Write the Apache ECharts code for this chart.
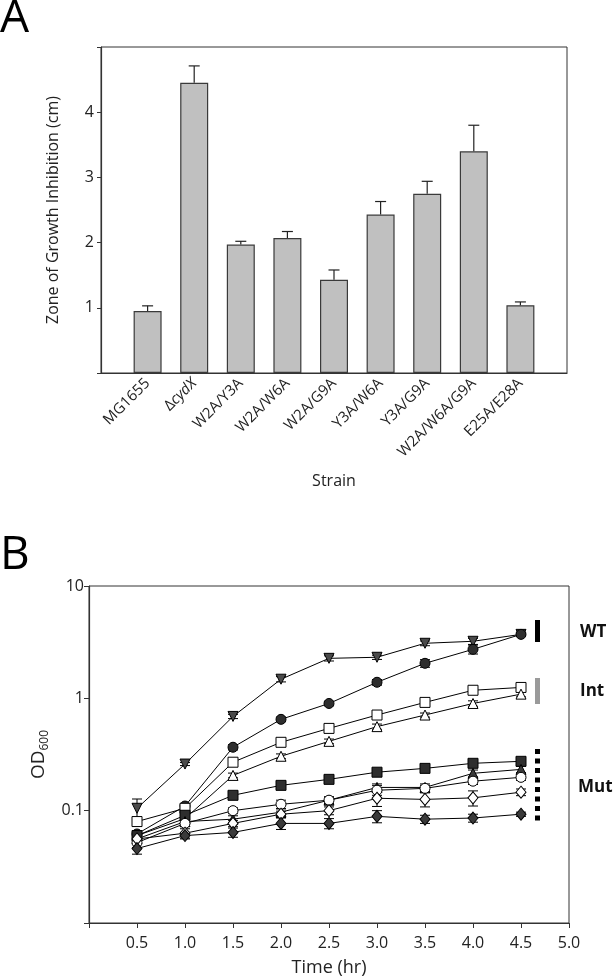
<!DOCTYPE html>
<html>
<head>
<meta charset="utf-8">
<script src="https://cdn.jsdelivr.net/npm/echarts@6/dist/echarts.min.js"></script>
<style>
html,body{margin:0;padding:0;background:#fff;}
#c{width:615px;height:980px;}
</style>
</head>
<body>
<div id="c"></div>
<script>
// ---------- Panel A data ----------
const strains = ['MG1655', 'ΔcydX', 'W2A/Y3A', 'W2A/W6A', 'W2A/G9A', 'Y3A/W6A', 'Y3A/G9A', 'W2A/W6A/G9A', 'E25A/E28A'];
const zoneMean = [0.95, 4.45, 1.97, 2.07, 1.43, 2.43, 2.75, 3.40, 1.04];
const zoneErr  = [0.08, 0.26, 0.05, 0.10, 0.15, 0.20, 0.19, 0.40, 0.05];
const zoneTicks = [0, 1, 2, 3, 4, 5];

// ---------- Panel B data ----------
const times = [0.5, 1.0, 1.5, 2.0, 2.5, 3.0, 3.5, 4.0, 4.5];
const odTriDownFilled = [0.105, 0.26, 0.69, 1.48, 2.27, 2.32, 3.09, 3.22, 3.71];
const odTriDownFilledErr = [0.022, 0.008, 0.03, 0.08, 0.12, 0.10, 0.15, 0.20, 0.15];
const odCircleFilled = [0.062, 0.110, 0.367, 0.65, 0.90, 1.39, 2.05, 2.73, 3.71];
const odCircleFilledErr = [0.004, 0.006, 0.02, 0.03, 0.04, 0.08, 0.16, 0.25, 0.10];
const odSquareOpen = [0.080, 0.105, 0.27, 0.406, 0.54, 0.71, 0.92, 1.18, 1.25];
const odSquareOpenErr = [0.007, 0.008, 0.01, 0.015, 0.02, 0.03, 0.04, 0.05, 0.08];
const odTriUpOpen = [0.060, 0.085, 0.206, 0.305, 0.414, 0.56, 0.71, 0.90, 1.09];
const odTriUpOpenErr = [0.004, 0.004, 0.01, 0.015, 0.02, 0.03, 0.03, 0.05, 0.06];
const odSquareFilled = [0.060, 0.091, 0.137, 0.168, 0.19, 0.22, 0.238, 0.264, 0.275];
const odSquareFilledErr = [0.004, 0.004, 0.005, 0.007, 0.008, 0.01, 0.012, 0.015, 0.02];
const odTriUpFilled = [0.056, 0.080, 0.084, 0.097, 0.124, 0.161, 0.161, 0.215, 0.233];
const odTriUpFilledErr = [0.004, 0.004, 0.006, 0.007, 0.009, 0.012, 0.012, 0.015, 0.015];
const odCircleOpen = [0.052, 0.077, 0.100, 0.114, 0.124, 0.152, 0.158, 0.183, 0.198];
const odCircleOpenErr = [0.005, 0.005, 0.006, 0.010, 0.008, 0.015, 0.010, 0.012, 0.012];
const odDiamondOpen = [0.056, 0.063, 0.077, 0.093, 0.100, 0.129, 0.126, 0.130, 0.146];
const odDiamondOpenErr = [0.004, 0.006, 0.005, 0.006, 0.008, 0.020, 0.018, 0.020, 0.010];
const odDiamondFilled = [0.046, 0.060, 0.064, 0.077, 0.077, 0.089, 0.084, 0.086, 0.093];
const odDiamondFilledErr = [0.005, 0.004, 0.006, 0.009, 0.008, 0.011, 0.007, 0.007, 0.004];
const odTicks = [0.01, 0.1, 1, 10];
const timeTicks = [0, 0.5, 1.0, 1.5, 2.0, 2.5, 3.0, 3.5, 4.0, 4.5, 5.0];

const FONT = '"Open Sans", "Noto Sans", sans-serif';
const TXT = '#222';
const AX = '#333';

const chart = echarts.init(document.getElementById('c'), null, {renderer: 'canvas'});

const catData = [''].concat(strains, ['']);
const barData = [null].concat(zoneMean, [null]);
const barErrData = zoneMean.map((m, i) => [i + 1, m, zoneErr[i]]);

const odSeriesDef = [
  {name: 'WT1', data: odTriDownFilled, err: odTriDownFilledErr, symbol: 'triangle', rot: 180, fill: '#4a4a4a'},
  {name: 'WT2', data: odCircleFilled, err: odCircleFilledErr, symbol: 'circle', rot: 0, fill: '#2e2e2e'},
  {name: 'Int1', data: odSquareOpen, err: odSquareOpenErr, symbol: 'rect', rot: 0, fill: '#fff'},
  {name: 'Int2', data: odTriUpOpen, err: odTriUpOpenErr, symbol: 'triangle', rot: 0, fill: '#fff'},
  {name: 'Mut1', data: odSquareFilled, err: odSquareFilledErr, symbol: 'rect', rot: 0, fill: '#2e2e2e'},
  {name: 'Mut2', data: odTriUpFilled, err: odTriUpFilledErr, symbol: 'triangle', rot: 0, fill: '#3a3a3a'},
  {name: 'Mut3', data: odCircleOpen, err: odCircleOpenErr, symbol: 'circle', rot: 0, fill: '#fff'},
  {name: 'Mut4', data: odDiamondOpen, err: odDiamondOpenErr, symbol: 'diamond', rot: 0, fill: '#fff'},
  {name: 'Mut5', data: odDiamondFilled, err: odDiamondFilledErr, symbol: 'diamond', rot: 0, fill: '#3a3a3a'}
];

function errRenderB(params, api) {
  const x = api.value(0), v = api.value(1), e = api.value(2);
  const lo = api.coord([x, v - e]);
  const hi = api.coord([x, v + e]);
  const hw = 5;
  const st = {stroke: '#000', lineWidth: 1};
  return {type: 'group', children: [
    {type: 'line', shape: {x1: lo[0], y1: lo[1], x2: hi[0], y2: hi[1]}, style: st},
    {type: 'line', shape: {x1: lo[0] - hw, y1: lo[1], x2: lo[0] + hw, y2: lo[1]}, style: st},
    {type: 'line', shape: {x1: hi[0] - hw, y1: hi[1], x2: hi[0] + hw, y2: hi[1]}, style: st}
  ]};
}

function errRenderA(params, api) {
  const x = api.value(0), v = api.value(1), e = api.value(2);
  const lo = api.coord([x, v]);
  const hi = api.coord([x, v + e]);
  const hw = 5.5;
  const st = {stroke: '#222', lineWidth: 1.2};
  return {type: 'group', children: [
    {type: 'line', shape: {x1: lo[0], y1: lo[1], x2: hi[0], y2: hi[1]}, style: st},
    {type: 'line', shape: {x1: hi[0] - hw, y1: hi[1], x2: hi[0] + hw, y2: hi[1]}, style: st}
  ]};
}

const seriesB = [];
odSeriesDef.forEach(function (d) {
  seriesB.push({
    type: 'custom', xAxisIndex: 1, yAxisIndex: 1, z: 2, silent: true,
    renderItem: errRenderB,
    data: times.map((t, i) => [t, d.data[i], d.err[i]])
  });
});
odSeriesDef.forEach(function (d) {
  seriesB.push({
    type: 'line', name: d.name, xAxisIndex: 1, yAxisIndex: 1, z: 3,
    data: times.map((t, i) => [t, d.data[i]]),
    symbol: d.symbol, symbolRotate: d.rot, symbolSize: d.symbol === 'diamond' ? [10, 12] : 10,
    showSymbol: true, showAllSymbol: true,
    lineStyle: {color: '#000', width: 1},
    itemStyle: {color: d.fill, borderColor: '#000', borderWidth: 1},
    emphasis: {disabled: true}
  });
});

function dotted() {
  const arr = [];
  for (let k = 0; k < 8; k++) {
    arr.push({type: 'rect', shape: {x: 535, y: 749 + k * 9.5, width: 5, height: 5}, style: {fill: '#000'}});
  }
  return arr;
}

const option = {
  animation: false,
  backgroundColor: '#fff',
  textStyle: {fontFamily: FONT, color: TXT},
  grid: [
    {left: 101, right: 48, top: 47, bottom: 607, show: true, borderColor: AX, borderWidth: 1, backgroundColor: 'transparent'},
    {left: 89, right: 46, top: 586, bottom: 57, show: true, borderColor: AX, borderWidth: 1, backgroundColor: 'transparent'}
  ],
  xAxis: [
    {
      type: 'category', gridIndex: 0, data: catData, boundaryGap: false,
      axisLine: {lineStyle: {color: AX, width: 1.2}},
      axisTick: {show: false},
      axisLabel: {
        rotate: 45, margin: 8, interval: 0, color: TXT, fontSize: 15, fontFamily: FONT,
        formatter: function (v) {
          if (v === 'ΔcydX') return '{n|Δ}{i|cydX}';
          return v;
        },
        rich: {
          n: {fontSize: 15, fontFamily: FONT, color: TXT},
          i: {fontSize: 15, fontFamily: FONT, color: TXT, fontStyle: 'italic'}
        }
      },
      name: 'Strain', nameLocation: 'middle', nameGap: 100,
      nameTextStyle: {fontSize: 16, color: TXT, fontFamily: FONT}
    },
    {
      type: 'value', gridIndex: 1, min: 0, max: 5, interval: 0.5,
      axisLine: {lineStyle: {color: AX, width: 1.2}},
      axisTick: {show: true, length: 5, lineStyle: {color: AX}},
      splitLine: {show: false},
      axisLabel: {
        color: TXT, fontSize: 16, fontFamily: FONT, margin: 12,
        formatter: function (v) { return v === 0 ? '' : v.toFixed(1); }
      },
      name: 'Time (hr)', nameLocation: 'middle', nameGap: 36,
      nameTextStyle: {fontSize: 18, color: TXT, fontFamily: FONT}
    }
  ],
  yAxis: [
    {
      type: 'value', gridIndex: 0, min: zoneTicks[0], max: zoneTicks[zoneTicks.length - 1], interval: 1,
      axisLine: {show: true, lineStyle: {color: AX, width: 1.2}},
      axisTick: {show: true, length: 4, lineStyle: {color: AX}},
      splitLine: {show: false},
      axisLabel: {
        color: TXT, fontSize: 16, fontFamily: FONT, margin: 7,
        formatter: function (v) { return (v === 0 || v === 5) ? '' : String(v); }
      },
      name: 'Zone of Growth Inhibition (cm)', nameLocation: 'middle', nameGap: 40,
      nameTextStyle: {fontSize: 16, color: TXT, fontFamily: FONT}
    },
    {
      type: 'log', gridIndex: 1, min: odTicks[0], max: odTicks[odTicks.length - 1], logBase: 10,
      axisLine: {show: true, lineStyle: {color: AX, width: 1.2}},
      axisTick: {show: true, length: 5, lineStyle: {color: AX}},
      splitLine: {show: false},
      minorTick: {show: false},
      axisLabel: {
        color: TXT, fontSize: 16, fontFamily: FONT, margin: 5,
        formatter: function (v) {
          if (Math.abs(v - 0.01) < 1e-9) return '';
          if (Math.abs(v - 0.1) < 1e-9) return '0.1';
          return String(Math.round(v));
        }
      },
      name: '{m|OD}{s|600}', nameLocation: 'middle', nameGap: 32,
      nameTextStyle: {
        color: TXT, fontFamily: FONT,
        rich: {
          m: {fontSize: 19, fontFamily: FONT, color: TXT, lineHeight: 24},
          s: {fontSize: 12, fontFamily: FONT, color: TXT, lineHeight: 24, verticalAlign: 'bottom', padding: [9, 0, 0, 0]}
        }
      }
    }
  ],
  series: [
    {
      type: 'bar', xAxisIndex: 0, yAxisIndex: 0, data: barData, barWidth: 28,
      itemStyle: {color: '#c0c0c0', borderColor: '#3a3a3a', borderWidth: 1.2},
      emphasis: {disabled: true}, z: 2
    },
    {
      type: 'custom', xAxisIndex: 0, yAxisIndex: 0, renderItem: errRenderA, data: barErrData, z: 3, silent: true
    }
  ].concat(seriesB),
  graphic: [
    {type: 'text', left: 0, top: -4, style: {text: 'A', fontSize: 46, fontFamily: FONT, fill: '#000'}},
    {type: 'text', left: 0, top: 533, style: {text: 'B', fontSize: 46, fontFamily: FONT, fill: '#000'}},
    {type: 'rect', shape: {x: 535, y: 620, width: 5, height: 22}, style: {fill: '#000'}},
    {type: 'rect', shape: {x: 535, y: 678, width: 5, height: 26}, style: {fill: '#9a9a9a'}},
    {type: 'group', children: dotted()},
    {type: 'text', x: 580, y: 632, style: {text: 'WT', fontSize: 17, fontWeight: 'bold', fontFamily: FONT, fill: '#111', verticalAlign: 'middle'}},
    {type: 'text', x: 580, y: 691, style: {text: 'Int', fontSize: 17, fontWeight: 'bold', fontFamily: FONT, fill: '#111', verticalAlign: 'middle'}},
    {type: 'text', x: 578, y: 787, style: {text: 'Mut', fontSize: 17, fontWeight: 'bold', fontFamily: FONT, fill: '#111', verticalAlign: 'middle'}}
  ]
};

chart.setOption(option);
</script>
</body>
</html>
